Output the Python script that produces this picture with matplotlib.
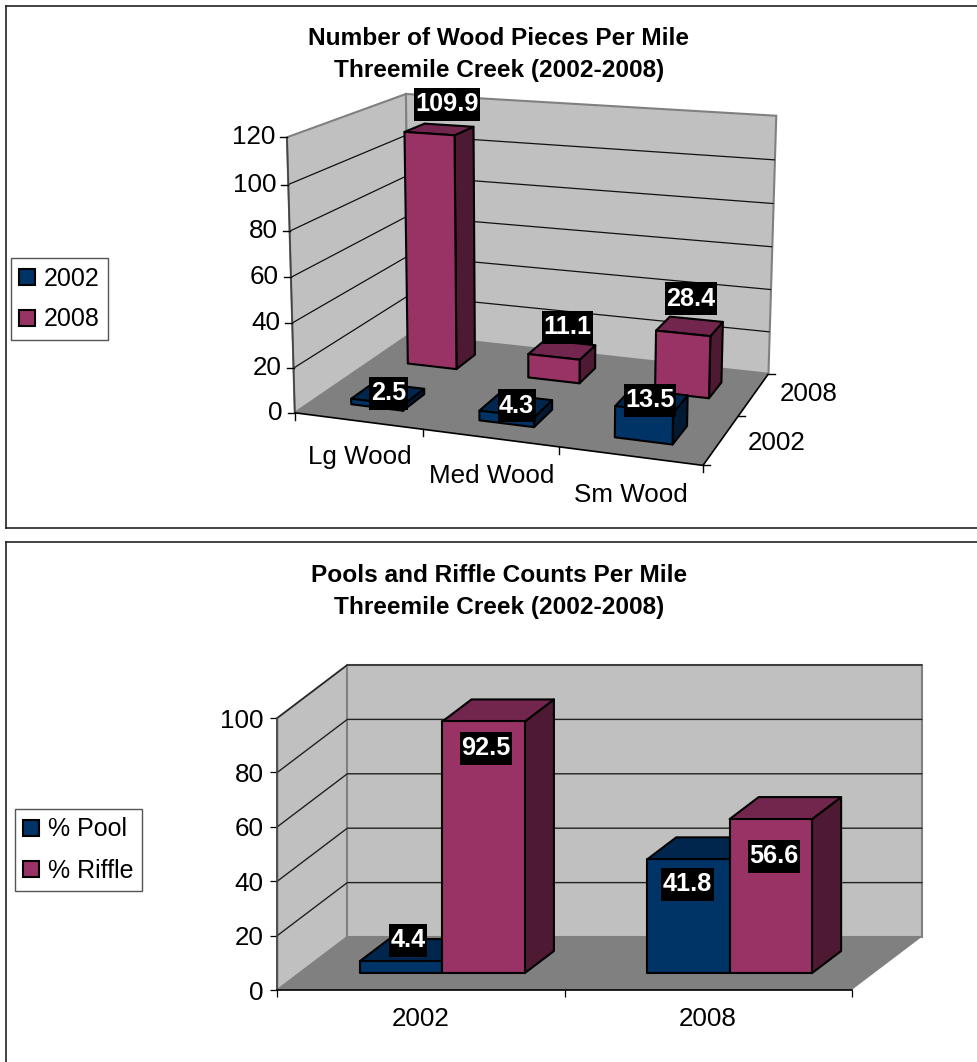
import numpy as np
import matplotlib
matplotlib.use("Agg")
import matplotlib.pyplot as plt
from matplotlib.patches import Polygon, Rectangle, Patch
from matplotlib.lines import Line2D
from matplotlib.transforms import IdentityTransform

plt.rcParams['font.family'] = ['Liberation Sans', 'DejaVu Sans']

# ---- data ----
wood_categories = ['Lg Wood', 'Med Wood', 'Sm Wood']
wood_years = ['2002', '2008']
wood_2002 = [2.5, 4.3, 13.5]
wood_2008 = [109.9, 11.1, 28.4]
wood_ticks = [0, 20, 40, 60, 80, 100, 120]

pool_categories = ['2002', '2008']
pool_series = ['% Pool', '% Riffle']
pct_pool = [4.4, 41.8]
pct_riffle = [92.5, 56.6]
pool_ticks = [0, 20, 40, 60, 80, 100]

# ---- style ----
W, H = 978, 1062
FS = 18.7
FS_BOLD = 17.6
FS_LABEL = 18.2
NAVY = ('#003366', '#00264D', '#001A33')
WINE = ('#993366', '#73264D', '#4D1933')
WALL, FLOOR, EDGE = '#C0C0C0', '#808080', '#808080'

fig = plt.figure(figsize=(W / 100, H / 100), dpi=100, facecolor='white')


def figxy(x, y):
    return x / W, 1 - y / H


def frame(x0, y0, x1, y1):
    for a, b in [((x0, y0), (x1, y0)), ((x0, y0), (x0, y1)), ((x0, y1), (x1, y1))]:
        fa, fb = figxy(*a), figxy(*b)
        fig.add_artist(Line2D([fa[0], fb[0]], [fa[1], fb[1]], color='#222222', lw=1.2,
                              transform=fig.transFigure))


def data_label(px, py, s):
    """Black box with white bold text, centred on a top-origin pixel position."""
    t = fig.text(*figxy(px, py), s, color='white', fontsize=FS_LABEL, fontweight='bold',
                 ha='center', va='center', zorder=6)
    w = t.get_window_extent(fig.canvas.get_renderer()).width + 3
    fig.add_artist(Rectangle((px - w / 2, H - py - 16.5), w, 33, facecolor='black', edgecolor='none',
                             transform=IdentityTransform(), zorder=5))


def prism(ax, proj, x0, x1, d0, d1, v, cols, z, lw=1.5):
    front = [(x0, d0, 0), (x1, d0, 0), (x1, d0, v), (x0, d0, v)]
    top = [(x0, d0, v), (x1, d0, v), (x1, d1, v), (x0, d1, v)]
    side = [(x1, d0, 0), (x1, d1, 0), (x1, d1, v), (x1, d0, v)]
    for face, c in zip((side, top, front), (cols[2], cols[1], cols[0])):
        ax.add_patch(Polygon([proj(*p) for p in face], closed=True, facecolor=c, edgecolor='black',
                             lw=lw, joinstyle='round', clip_on=False, zorder=z))


# ================= top chart: perspective 3-D columns =================
frame(6.5, 5.5, W + 5, 528)
ax1 = fig.add_axes([0, 0, 1, 1], facecolor='none')
ax1.set_xlim(0, W)
ax1.set_ylim(H, 0)
ax1.axis('off')

# projective camera fitted to the visible corners of the chart box
corner_world = [(0, 0, 0), (3, 0, 0), (0, 2, 0), (3, 2, 0), (0, 0, 120), (0, 2, 120), (3, 2, 120)]
corner_px = [(296, 412.5), (702.7, 466), (408, 335), (769, 373), (286, 137), (407, 94), (776, 116)]
A = []
for (wx, wy, wz), (u, v) in zip(corner_world, corner_px):
    A.append([wx, wy, wz, 1, 0, 0, 0, 0, -u * wx, -u * wy, -u * wz, -u])
    A.append([0, 0, 0, 0, wx, wy, wz, 1, -v * wx, -v * wy, -v * wz, -v])
P = np.linalg.svd(np.array(A, float))[2][-1].reshape(3, 4)


def proj1(x, d, v):
    q = P @ np.array([x, d, v, 1.0])
    return q[0] / q[2], q[1] / q[2]


ax1.add_patch(Polygon([proj1(0, 0, 0), proj1(0, 2, 0), proj1(0, 2, 120), proj1(0, 0, 120)],
                      facecolor=WALL, edgecolor=EDGE, lw=1.5, zorder=1))
ax1.add_patch(Polygon([proj1(0, 2, 0), proj1(3, 2, 0), proj1(3, 2, 120), proj1(0, 2, 120)],
                      facecolor=WALL, edgecolor=EDGE, lw=1.5, zorder=1))
ax1.add_patch(Polygon([proj1(0, 0, 0), proj1(3, 0, 0), proj1(3, 2, 0), proj1(0, 2, 0)],
                      facecolor=FLOOR, edgecolor='none', zorder=1.1))


def seg1(a, b, color='black', lw=1.0, z=2):
    pa, pb = proj1(*a), proj1(*b)
    ax1.plot([pa[0], pb[0]], [pa[1], pb[1]], color=color, lw=lw, zorder=z, solid_capstyle='butt',
             clip_on=False)


for v in wood_ticks[1:-1]:
    seg1((0, 0, v), (0, 2, v), color='#111111', lw=0.9)
    seg1((0, 2, v), (3, 2, v), color='#111111', lw=0.9)
seg1((0, 0, 0), (0, 0, 120), color='#444444', lw=1.2)
seg1((0, 0, 0), (3, 0, 0), lw=1.2)
seg1((3, 0, 0), (3, 2, 0), lw=1.2)

for v in wood_ticks:
    x, y = proj1(0, 0, v)
    ax1.plot([x - 7, x], [y, y], color='black', lw=1, zorder=2)
    ax1.text(x - 12, y, str(v), ha='right', va='center', fontsize=FS)
for i in range(4):
    x, y = proj1(i, 0, 0)
    ax1.plot([x, x], [y, y + 7], color='black', lw=1, zorder=2)
for j in range(3):
    x, y = proj1(3, j, 0)
    ax1.plot([x, x + 7], [y, y], color='black', lw=1, zorder=2)

cat_off = [(2, 36), (1, 38), (1, 39)]
for i, name in enumerate(wood_categories):
    x, y = proj1(i + 0.5, 0, 0)
    dx, dy = cat_off[i]
    ax1.text(x + dx, y + dy, name, ha='center', va='center', fontsize=FS)
year_off = [(55, 3), (55, 0)]
for j, name in enumerate(wood_years):
    x, y = proj1(3, j + 0.5, 0)
    dx, dy = year_off[j]
    ax1.text(x + dx, y + dy, name, ha='center', va='center', fontsize=FS)

BAR_X0, BAR_X1, BAR_D0, BAR_D1 = 0.30, 0.71, 0.30, 0.68
off_2002 = [(0, 0), (0, 1), (-2, 0)]
off_2008 = [(7, -25), (5, -22), (1, -27)]
z = 3
labels1 = []
for j, (vals, cols, offs) in reversed(list(enumerate([(wood_2002, NAVY, off_2002),
                                                      (wood_2008, WINE, off_2008)]))):
    for i, val in enumerate(vals):
        prism(ax1, proj1, i + BAR_X0, i + BAR_X1, j + BAR_D0, j + BAR_D1, val, cols, z)
        z += 0.1
        cx, cy = proj1(i + (BAR_X0 + BAR_X1) / 2, j + 0.5, val)
        labels1.append((cx + offs[i][0], cy + offs[i][1], f'{val:.1f}'))
for lab in labels1:
    data_label(*lab)

fig.text(*figxy(499, 54.5), 'Number of Wood Pieces Per Mile\nThreemile Creek (2002-2008)', ha='center',
         va='center', fontsize=FS_BOLD, fontweight='bold', linespacing=1.45)

leg_kw = dict(loc='upper left', bbox_transform=fig.transFigure, borderaxespad=0, fancybox=False,
              framealpha=1, edgecolor='#555555', fontsize=18, handlelength=0.62, handleheight=0.62,
              handletextpad=0.36, labelspacing=0.68, borderpad=0.34)
leg1 = fig.legend(handles=[Patch(facecolor=NAVY[0], edgecolor='black', lw=1.5, label=wood_years[0]),
                           Patch(facecolor=WINE[0], edgecolor='black', lw=1.5, label=wood_years[1])],
                  bbox_to_anchor=figxy(10.5, 258), **leg_kw)

# ================= bottom chart: oblique 3-D columns =================
frame(6.5, 542, W + 5, H + 5)
LEFT, RIGHT, BOTTOM, TOP = 277.3, 851.7, 990, 718
ax2 = fig.add_axes([LEFT / W, 1 - BOTTOM / H, (RIGHT - LEFT) / W, (BOTTOM - TOP) / H], facecolor='none')
ax2.set_xlim(0, 2)
ax2.set_ylim(0, 100)
DX = 70 / ((RIGHT - LEFT) / 2)
DV = 53 / ((BOTTOM - TOP) / 100)


def proj2(x, d, v):
    return x + d * DX, v + d * DV


ax2.add_patch(Polygon([proj2(0, 0, 0), proj2(0, 1, 0), proj2(0, 1, 100), proj2(0, 0, 100)],
                      facecolor=WALL, edgecolor=EDGE, lw=1.5, clip_on=False, zorder=1))
ax2.add_patch(Polygon([proj2(0, 1, 0), proj2(2, 1, 0), proj2(2, 1, 100), proj2(0, 1, 100)],
                      facecolor=WALL, edgecolor=EDGE, lw=1.5, clip_on=False, zorder=1))
ax2.add_patch(Polygon([proj2(0, 0, 0), proj2(2, 0, 0), proj2(2, 1, 0), proj2(0, 1, 0)],
                      facecolor=FLOOR, edgecolor='none', clip_on=False, zorder=1.1))
for v in pool_ticks[1:]:
    pts = [proj2(0, 0, v), proj2(0, 1, v), proj2(2, 1, v)]
    ax2.plot(*zip(*pts), color='#222222', lw=1.0, clip_on=False, zorder=2)

for name in ('top', 'right'):
    ax2.spines[name].set_visible(False)
ax2.spines['left'].set_color('#444444')
ax2.spines['left'].set_linewidth(1.2)
ax2.spines['bottom'].set_linewidth(1.2)
ax2.set_yticks(pool_ticks)
ax2.set_xticks([0, 1, 2])
ax2.set_xticklabels([])
ax2.set_xticks([0.5, 1.5], minor=True)
ax2.set_xticklabels(pool_categories, minor=True)
ax2.tick_params(axis='y', labelsize=FS, length=5, width=0.9, pad=5)
ax2.tick_params(axis='x', which='major', length=5, width=0.9)
ax2.tick_params(axis='x', which='minor', length=0, labelsize=FS, pad=12)

BAR_START, BAR_W, D0, D1 = 0.21, 0.287, 0.32, 0.735
off_pool = [(6.5, -21), (-1, 25)]
off_riffle = [(2.5, 27), (3, 37)]
z = 3
labels2 = []
for i in range(len(pool_categories)):
    for s, (vals, cols, offs) in enumerate([(pct_pool, NAVY, off_pool), (pct_riffle, WINE, off_riffle)]):
        x0 = i + BAR_START + s * BAR_W
        prism(ax2, proj2, x0, x0 + BAR_W, D0, D1, vals[i], cols, z)
        z += 0.1
        a, b = proj2(x0 + BAR_W / 2, D0, vals[i])
        dx, dy = ax2.transData.transform((a, b))
        labels2.append((dx + offs[i][0], H - dy + offs[i][1], f'{vals[i]:.1f}'))
for lab in labels2:
    data_label(*lab)

fig.text(*figxy(499, 591.5), 'Pools and Riffle Counts Per Mile\nThreemile Creek (2002-2008)', ha='center',
         va='center', fontsize=FS_BOLD, fontweight='bold', linespacing=1.45)

leg2 = fig.legend(handles=[Patch(facecolor=NAVY[0], edgecolor='black', lw=1.5, label=pool_series[0]),
                           Patch(facecolor=WINE[0], edgecolor='black', lw=1.5, label=pool_series[1])],
                  bbox_to_anchor=figxy(14.5, 809), **leg_kw)

fig.savefig('out.png', dpi=100)
